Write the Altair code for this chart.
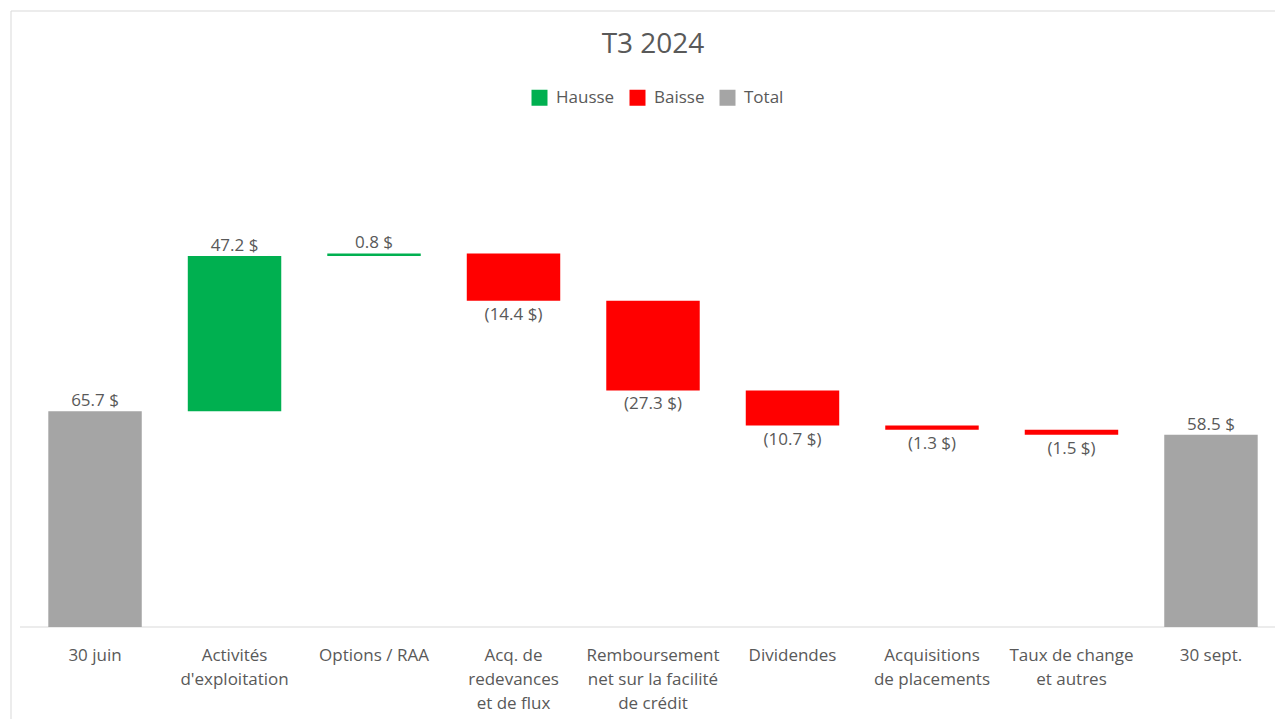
import altair as alt
import pandas as pd

categories = [
    "30 juin",
    "Activités\nd'exploitation",
    "Options / RAA",
    "Acq. de\nredevances\net de flux",
    "Remboursement\nnet sur la facilité\nde crédit",
    "Dividendes",
    "Acquisitions\nde placements",
    "Taux de change\net autres",
    "30 sept.",
]
changes = [65.7, 47.2, 0.8, -14.4, -27.3, -10.7, -1.3, -1.5, 58.5]
kinds = ["Total", "Hausse", "Hausse", "Baisse", "Baisse", "Baisse", "Baisse", "Baisse", "Total"]
value_labels = ["65.7 $", "47.2 $", "0.8 $", "(14.4 $)", "(27.3 $)", "(10.7 $)", "(1.3 $)", "(1.5 $)", "58.5 $"]
legend_order = ["Hausse", "Baisse", "Total"]
legend_colors = ["#00B050", "#FF0000", "#A5A5A5"]

rows = []
running = 0.0
for c, v, k, lab in zip(categories, changes, kinds, value_labels):
    if k == "Total":
        start, end = 0.0, v
        running = v
    else:
        start, end = running, running + v
        running = end
    rows.append(dict(cat=c, start=start, end=end, kind=k, label=lab,
                     top=max(start, end), bottom=min(start, end)))
df = pd.DataFrame(rows)

FONT = "Open Sans"
TXT = "#595959"
L = 23
W, H = 1244, 460

xenc = alt.X(
    "cat:N",
    sort=categories,
    scale=alt.Scale(paddingInner=0.33, paddingOuter=0.124),
    axis=alt.Axis(
        title=None, labelAngle=0, ticks=False, domain=False,
        labelExpr="split(datum.label, '\\n')", labelFont=FONT, labelFontSize=17,
        labelColor=TXT, labelLineHeight=24, labelPadding=20, labelLimit=0,
        labelBaseline="top",
    ),
)
yscale = alt.Scale(domain=[0, 140], nice=False, zero=True)

bars = alt.Chart(df).mark_bar().encode(
    x=xenc,
    y=alt.Y("start:Q", scale=yscale, axis=None),
    y2="end:Q",
    color=alt.Color(
        "kind:N",
        scale=alt.Scale(domain=legend_order, range=legend_colors),
        legend=alt.Legend(
            title=None, orient="none", legendX=531 - 8 - L, legendY=-78, direction="horizontal",
            symbolType="square", symbolSize=256, symbolStrokeWidth=0,
            labelFont=FONT, labelFontSize=17, labelColor=TXT, labelOffset=8,
            columnPadding=14,
        ),
    ),
)

top_text = alt.Chart(df).transform_filter("datum.kind != 'Baisse'").mark_text(
    baseline="bottom", dy=-1, font=FONT, fontSize=17, color=TXT
).encode(x=xenc, y=alt.Y("top:Q", scale=yscale, axis=None), text="label:N")

bot_text = alt.Chart(df).transform_filter("datum.kind == 'Baisse'").mark_text(
    baseline="top", dy=6, font=FONT, fontSize=17, color=TXT
).encode(x=xenc, y=alt.Y("bottom:Q", scale=yscale, axis=None), text="label:N")

one = pd.DataFrame({"t": ["T3 2024"]})
title = alt.Chart(one).mark_text(
    font=FONT, fontSize=28, color=TXT, baseline="middle", align="center"
).encode(x=alt.value(653 - 8 - L), y=alt.value(-122), text="t:N")

frame = alt.Chart(one).mark_rect(
    filled=False, stroke="#D9D9D9", strokeWidth=1
).encode(x=alt.value(11 - 8 - L), x2=alt.value(W + 60), y=alt.value(-156), y2=alt.value(H + 200))

baseline = alt.Chart(one).mark_rule(color="#D9D9D9", strokeWidth=1).encode(
    x=alt.value(20 - 8 - L), x2=alt.value(W + 10), y=alt.value(H)
)

chart = alt.layer(frame, baseline, bars, top_text, bot_text, title).properties(
    width=W, height=H,
    background="white",
    autosize=alt.AutoSizeParams(type="none"),
    padding={"left": L, "top": 159, "right": 0, "bottom": 92},
).configure_view(strokeWidth=0)

chart.save("out.html", embed_options={"renderer": "svg", "actions": False})
